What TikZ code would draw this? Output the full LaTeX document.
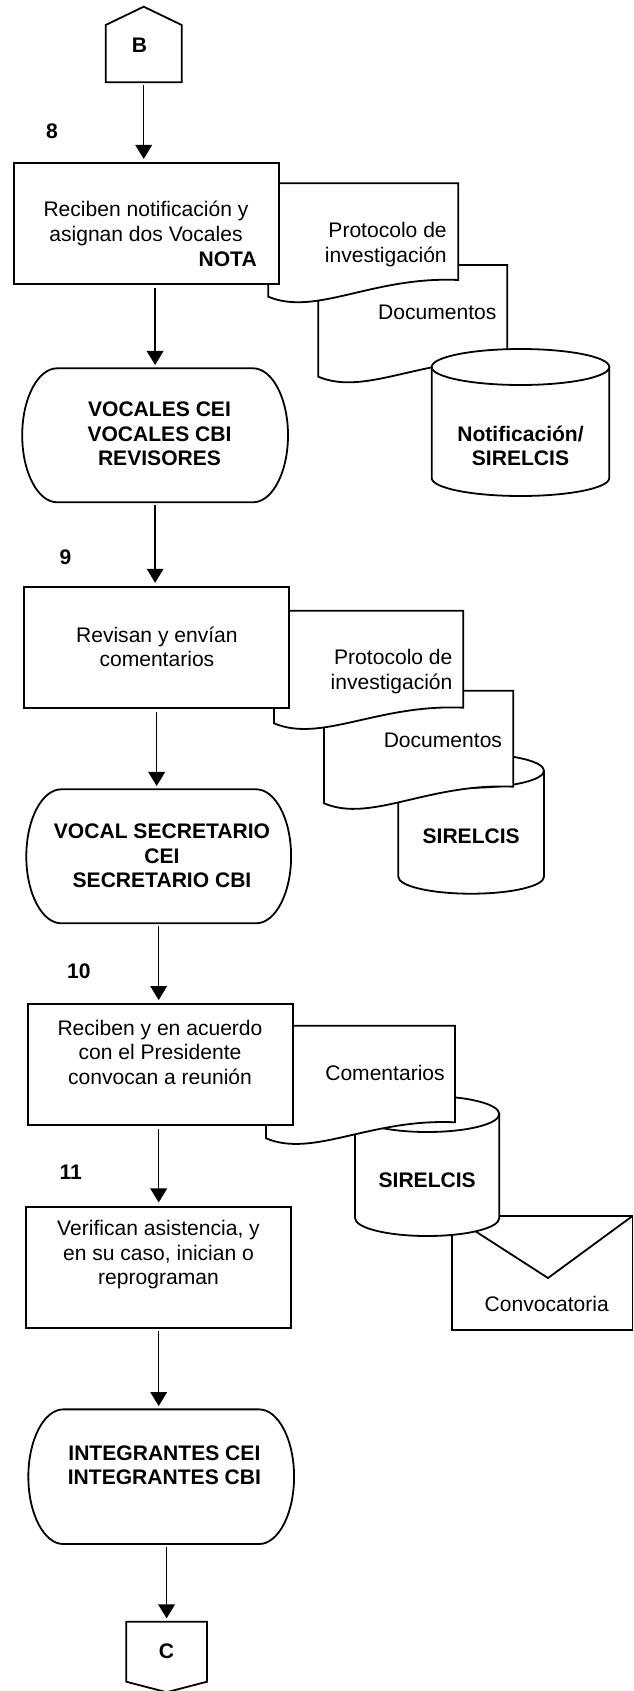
\documentclass[tikz,border=0pt]{standalone}
\usepackage{fontspec}
\setmainfont{Liberation Sans}
\usetikzlibrary{arrows.meta,calc}

\tikzset{
  outline/.style={draw=black, line width=1.35pt, fill=white, line join=miter},
  stepbox/.style={outline, rectangle, minimum width=198.75pt, minimum height=90.75pt, inner sep=0pt},
  frame/.style={rectangle, draw=none, fill=none, inner sep=0pt, outer sep=0pt},
  txt/.style={align=center, inner sep=0pt},
  doctxt/.style={align=right, inner sep=0pt, anchor=east},
  boldtxt/.style={align=center, inner sep=0pt, font=\fontsize{15.8}{18.4}\selectfont\bfseries},
  flow/.style={line width=1pt, -{Triangle[width=12.5pt,length=10.5pt]}, shorten >=2.5pt, shorten <=2pt}
}

% document symbol: left, top, right, y of left bottom corner, y of right bottom corner
\newcommand\docshape[5]{%
  \filldraw[outline] (#1,#2) -- (#3,#2) -- (#3,#5)
    .. controls ({#1+0.55*(#3-#1)},{#5-4}) and ({#1+0.25*(#3-#1)},{#4+20}) .. (#1,#4) -- cycle;}

% storage cylinder: left, right, top axis y, bottom axis y, half height of the ellipses
\newcommand\cylshape[5]{%
  \filldraw[outline] (#1,#3) -- (#1,#4)
    arc[start angle=180, end angle=0, x radius={(#2-#1)/2}, y radius=#5] -- (#2,#3) -- cycle;
  \filldraw[outline] ({(#1+#2)/2},#3) ellipse[x radius={(#2-#1)/2}, y radius=#5];}

% terminal outline around a frame node
\newcommand\termshape[1]{%
  \filldraw[outline] ($(#1.north west)+(35,0)$) -- ($(#1.north east)+(-35,0)$)
    .. controls ($(#1.north east)+(-15.7,0)$) and ($(#1.east)+(0,-37)$) .. (#1.east)
    .. controls ($(#1.east)+(0,37)$) and ($(#1.south east)+(-15.7,0)$) .. ($(#1.south east)+(-35,0)$)
    -- ($(#1.south west)+(35,0)$)
    .. controls ($(#1.south west)+(15.7,0)$) and ($(#1.west)+(0,37)$) .. (#1.west)
    .. controls ($(#1.west)+(0,-37)$) and ($(#1.north west)+(15.7,0)$) .. ($(#1.north west)+(35,0)$)
    -- cycle;}

\begin{document}
\begin{tikzpicture}[x=0.75pt, y=-0.75pt, font=\fontsize{15.8}{18.4}\selectfont]
\useasboundingbox (0,0) rectangle (634,1691);

% ---------- off-page connector B ----------
\node[frame, minimum width=57pt, minimum height=56.7pt] (Bc) at (143.7,44.5) {};
\filldraw[outline] (Bc.south west) -- ($(Bc.north west)+(0,18.3)$) -- (Bc.north)
  -- ($(Bc.north east)+(0,18.3)$) -- (Bc.south east) -- cycle;
\node[boldtxt] (Btxt) at (139.5,45) {B};

% ---------- step 8 ----------
\docshape{318.3}{265}{507.3}{376.7}{360.7}
\cylshape{431.7}{609.3}{367}{478}{18}
\docshape{268.3}{183.3}{458.3}{296.7}{280}
\node[stepbox] (box8) at (146.5,223.7) {};
\node[txt] (t8) at (146,223.3) {Reciben notificación y\\asignan dos Vocales};
\node[boldtxt, anchor=east] (nota) at (257,259) {NOTA};
\node[doctxt] (p8) at (447,244.7) {Protocolo de\\investigación};
\node[doctxt] (d8) at (496.7,312.3) {Documentos};
\node[boldtxt] (s8) at (520.5,445.8) {Notificación/\\SIRELCIS};
\node[boldtxt] (n8) at (52,131) {8};

\node[frame, minimum width=199.35pt, minimum height=100.5pt] (T1) at (155.1,435.3) {};
\termshape{T1}
\node[boldtxt] (T1txt) at (159.5,434) {VOCALES CEI\\VOCALES CBI\\REVISORES};

% ---------- step 9 ----------
\cylshape{398.3}{544}{770.7}{876.7}{17}
\docshape{324}{690.7}{513.3}{803.3}{786.7}
\docshape{274}{610.7}{463.3}{723.3}{707.7}
\node[stepbox] (box9) at (156.7,647.5) {};
\node[txt] (t9) at (156.9,647) {Revisan y envían\\comentarios};
\node[doctxt] (p9) at (452.7,671.7) {Protocolo de\\investigación};
\node[doctxt] (d9) at (502.3,740) {Documentos};
\node[boldtxt] (s9) at (471.2,836.7) {SIRELCIS};
\node[boldtxt] (n9) at (65.5,557.3) {9};

\node[frame, minimum width=198.6pt, minimum height=100.5pt] (T2) at (158.7,856.3) {};
\termshape{T2}
\node[boldtxt] (T2txt) at (162,856) {VOCAL SECRETARIO\\CEI\\SECRETARIO CBI};

% ---------- step 10 ----------
\filldraw[outline] (451.7,1216) rectangle (632.5,1330);
\draw[outline, fill=none] (451.7,1216) -- (548,1278) -- (632.5,1216);
\cylshape{355}{499.3}{1114}{1218}{18}
\docshape{266}{1025.7}{455}{1138.3}{1122.3}
\node[stepbox] (box10) at (160.15,1064.8) {};
\node[txt] (t10) at (160,1052) {Reciben y en acuerdo\\con el Presidente\\convocan a reunión};
\node[doctxt] (c10) at (445,1072.7) {Comentarios};
\node[boldtxt] (s10) at (427.2,1180) {SIRELCIS};
\node[txt] (env) at (546.7,1304.3) {Convocatoria};
\node[boldtxt] (n10) at (78.9,971.7) {10};

% ---------- step 11 ----------
\node[stepbox] (box11) at (158.7,1267.2) {};
\node[txt] (t11) at (158.5,1255) {Verifican asistencia, y\\en su caso, inician o\\reprograman};
\node[boldtxt] (n11) at (70.8,1172.7) {11};

\node[frame, minimum width=199.3pt, minimum height=101pt] (T3) at (161.2,1476.7) {};
\termshape{T3}
\node[boldtxt] (T3txt) at (164.4,1465) {INTEGRANTES CEI\\INTEGRANTES CBI};

% ---------- off-page connector C ----------
\node[frame, minimum width=60.6pt, minimum height=45pt] (Cc) at (166.6,1651.7) {};
\filldraw[outline] (Cc.north west) -- (Cc.north east) -- (Cc.south east)
  -- ($(Cc.south)+(0,10.5)$) -- (Cc.south west) -- cycle;
\node[boldtxt] (Ctxt) at (166.6,1651.7) {C};

% ---------- flow connectors ----------
\draw[flow] (Bc.south) -- (Bc.south |- box8.north);
\draw[flow] (T1.north |- box8.south) -- (T1.north);
\draw[flow] (T1.south) -- (T1.south |- box9.north);
\draw[flow] (box9.south) -- (box9.south |- T2.north);
\draw[flow] (T2.south) -- (T2.south |- box10.north);
\draw[flow] (box11.north |- box10.south) -- (box11.north);
\draw[flow] (box11.south) -- (box11.south |- T3.north);
\draw[flow] (Cc.north |- T3.south) -- (Cc.north);
\end{tikzpicture}
\end{document}
